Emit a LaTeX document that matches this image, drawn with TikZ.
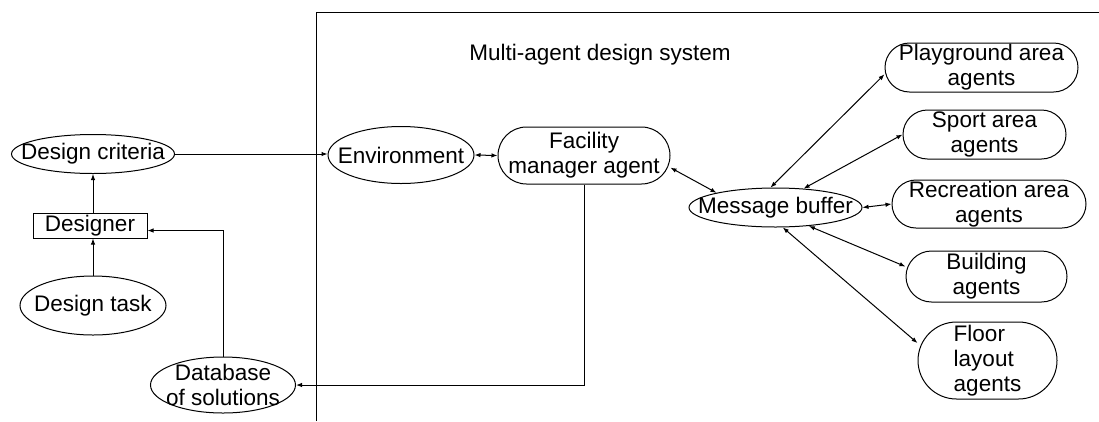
\documentclass[tikz,border=0pt]{standalone}
\usepackage{fontspec}
\setmainfont{Liberation Sans}
\usetikzlibrary{shapes.geometric,arrows.meta}

\begin{document}
\begin{tikzpicture}[x=1pt,y=-1pt,line width=1pt,
    font=\fontsize{22.5}{25}\selectfont,
    >={Latex[length=6pt,width=4.5pt]},
    oval/.style={draw,ellipse,inner sep=0pt},
    agent/.style={draw,rectangle,rounded corners=#1,inner sep=0pt,align=center}]
    \useasboundingbox (0,0) rectangle (1099,421);

    % designer side
    \node[oval,minimum width=163pt,minimum height=39pt,label=center:Design criteria] (crit) at (93,154) {};
    \node[draw,minimum width=114pt,minimum height=25pt,inner sep=0pt] (designer) at (90,225.5) {Designer};
    \node[oval,minimum width=146pt,minimum height=59pt,label=center:Design task] (task) at (93,305.5) {};
    \node[oval,minimum width=145pt,minimum height=56pt,label={[align=center]center:Database\\of solutions}] (db) at (223,385) {};

    % system frame
    \draw (316,421) -- (316,12) -- (1099,12);
    \node (title) at (600,55) {Multi-agent design system};

    \node[oval,minimum width=146pt,minimum height=57pt,label=center:Environment] (env) at (401,155) {};
    \node[agent=28.5pt,minimum width=172pt,minimum height=57pt] (fm) at (584,155.5) {Facility\\manager agent};
    \node[oval,minimum width=173pt,minimum height=39pt,label=center:Message buffer] (mb) at (775.5,207.5) {};

    \node[agent=24.5pt,minimum width=193pt,minimum height=49pt] (play) at (981.5,67.5) {Playground area\\agents};
    \node[agent=24.5pt,minimum width=163pt,minimum height=49pt] (sport) at (984.5,134.5) {Sport area\\agents};
    \node[agent=24pt,minimum width=194pt,minimum height=48pt] (rec) at (989,204) {Recreation area\\agents};
    \node[agent=25.5pt,minimum width=161pt,minimum height=51pt] (bldg) at (986.5,276.5) {Building\\agents};
    \node[agent=38.5pt,minimum width=139pt,minimum height=77pt,align=left] (floor) at (987.5,360.5) {Floor\\layout\\agents};

    % connectors
    \draw[->] (crit.east) -- (crit.east -| env.west);
    \draw[->] (designer.north -| crit) -- (crit);
    \draw[->] (task) -- (task |- designer.south);
    \draw[->] (db.north) |- ([yshift=-5pt]designer.east);
    \draw[->] (fm.south) |- (db.east);
    \draw[<->] (env.east) -- (fm.west);
    \draw[<->] (fm.-8) -- (mb.166);

    \draw[<->] (mb.104) -- (play.184);
    \draw[<->] (mb.34) -- (sport.west);
    \draw[<->] (mb.east) -- (rec.west);
    \draw[<->] (mb.-29) -- (bldg.173);
    \draw[<->] (mb.-70) -- (floor.166);
\end{tikzpicture}
\end{document}
